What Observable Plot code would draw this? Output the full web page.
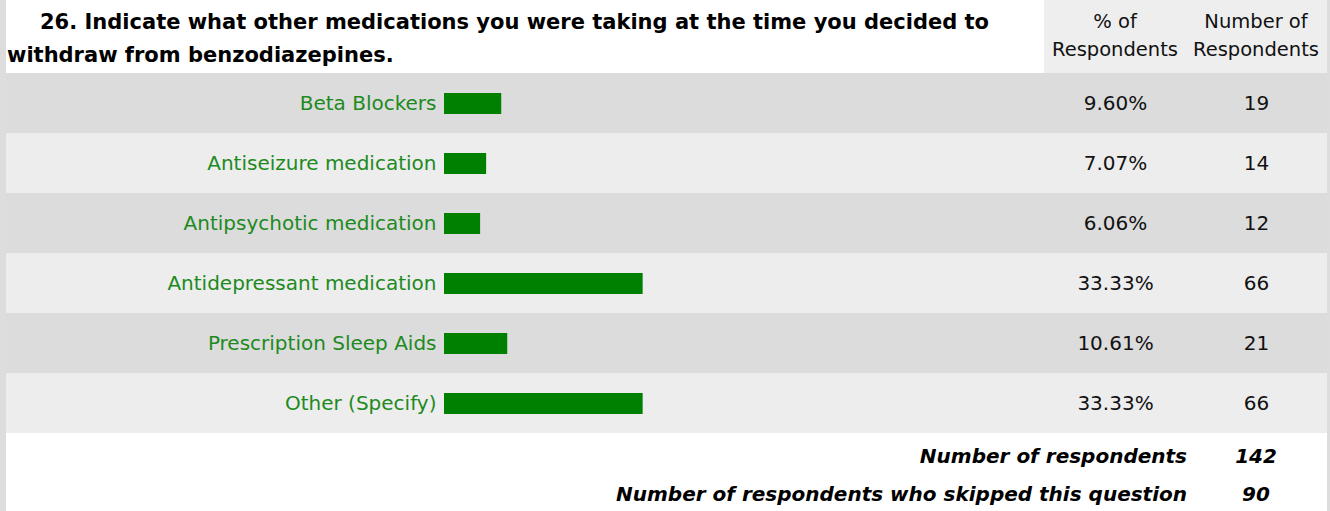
<!DOCTYPE html>
<html>
<head>
<meta charset="utf-8">
<script src="https://cdn.jsdelivr.net/npm/d3@7"></script>
<script src="https://cdn.jsdelivr.net/npm/@observablehq/plot@0.6"></script>
<style>
  html, body { margin: 0; padding: 0; background: #fff; }
  #wrap { position: relative; width: 1330px; height: 511px; background: #dddddd; overflow: hidden;
          font-family: "DejaVu Sans", sans-serif; }
  #title { position: absolute; left: 6px; top: 0; width: 1038px; height: 73px; background: #fff;
           font-weight: bold; font-size: 21px; line-height: 33px; color: #000; box-sizing: border-box;
           padding: 6px 0 0 1px; white-space: nowrap; }
  #title .l1 { padding-left: 33px; }
  #hdr { position: absolute; left: 1044px; top: 0; width: 283px; height: 73px; background: #eeeeee;
         font-size: 19.5px; line-height: 28px; color: #111; }
  #hdr div { position: absolute; top: 8px; text-align: center; }
  #chart { position: absolute; left: 0; top: 73px; }
  #foot { position: absolute; left: 6px; top: 433px; width: 1321px; height: 78px; background: #fff;
          font-family: "DejaVu Sans", sans-serif; font-weight: bold; font-style: italic; font-size: 20px; color: #000; }
  #foot div { position: absolute; white-space: nowrap; }
</style>
</head>
<body>
<div id="wrap">
  <div id="title"><div class="l1">26. Indicate what other medications you were taking at the time you decided to</div><div>withdraw from benzodiazepines.</div></div>
  <div id="hdr"></div>
  <div id="chart"></div>
  <div id="foot"></div>
</div>
<script>
const categories = ["Beta Blockers", "Antiseizure medication", "Antipsychotic medication", "Antidepressant medication", "Prescription Sleep Aids", "Other (Specify)"];
const percents = [9.60, 7.07, 6.06, 33.33, 10.61, 33.33];
const counts = [19, 14, 12, 66, 21, 66];
const columnHeaders = [["% of", "Respondents"], ["Number of", "Respondents"]];
const footerLabels = ["Number of respondents", "Number of respondents who skipped this question"];
const footerValues = [142, 90];

const rows = categories.map((c, i) => ({label: c, pct: percents[i], n: counts[i], i}));

// header columns
const hdr = document.getElementById("hdr");
const colCenters = [71, 212];
columnHeaders.forEach((h, k) => {
  const d = document.createElement("div");
  d.style.left = (colCenters[k] - 75) + "px";
  d.style.width = "150px";
  d.innerHTML = h.join("<br>");
  hdr.appendChild(d);
});

const chart = Plot.plot({
  width: 1330,
  height: 360,
  marginLeft: 6,
  marginRight: 3,
  marginTop: 0,
  marginBottom: 0,
  x: {domain: [0, 100], range: [444, 1040], axis: null},
  y: {domain: categories, axis: null, padding: 0},
  color: {type: "identity"},
  style: {background: "transparent", fontFamily: "'DejaVu Sans', sans-serif", fontSize: "20px"},
  marks: [
    Plot.cell(rows, {y: "label", fill: d => d.i % 2 ? "#ededed" : "#dcdcdc"}),
    Plot.barX(rows, {x: "pct", y: "label", fill: "#008000", insetTop: 20, insetBottom: 19}),
    Plot.text(rows, {x: 0, y: "label", text: "label", textAnchor: "end", dx: -8, fill: "#1e8a1e"}),
    Plot.text(rows, {y: "label", text: d => d.pct.toFixed(2) + "%", frameAnchor: "right", dx: -212, textAnchor: "middle", fill: "#111"}),
    Plot.text(rows, {y: "label", text: "n", frameAnchor: "right", dx: -71, textAnchor: "middle", fill: "#111"})
  ]
});
document.getElementById("chart").appendChild(chart);

// footer
const foot = document.getElementById("foot");
footerLabels.forEach((t, k) => {
  const a = document.createElement("div");
  a.textContent = t;
  a.style.right = (1321 - 1181) + "px";
  a.style.top = (11 + k * 38) + "px";
  foot.appendChild(a);
  const b = document.createElement("div");
  b.textContent = footerValues[k];
  b.style.left = (1250 - 40) + "px";
  b.style.width = "80px";
  b.style.textAlign = "center";
  b.style.top = (11 + k * 38) + "px";
  foot.appendChild(b);
});
</script>
</body>
</html>
